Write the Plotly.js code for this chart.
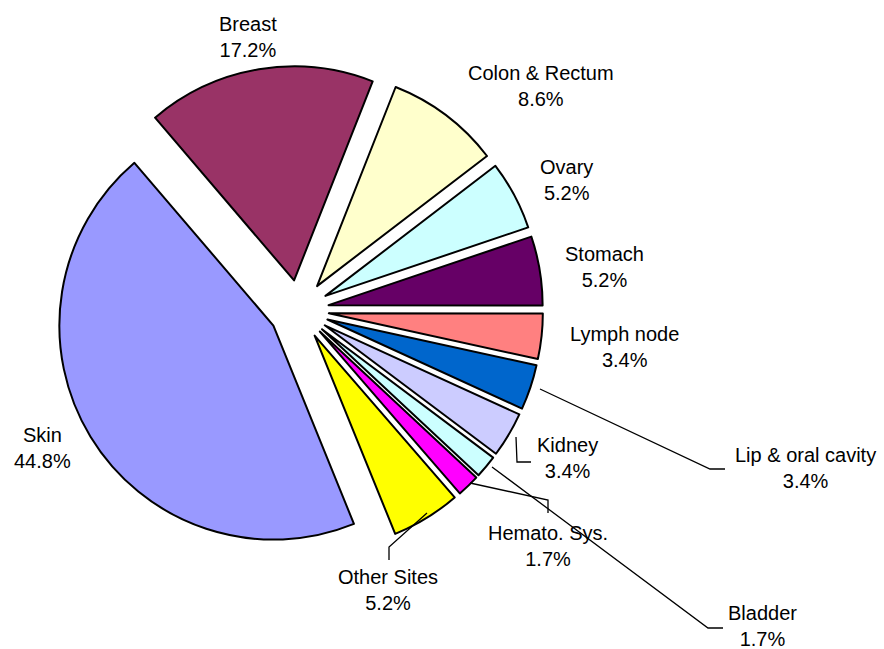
<!DOCTYPE html>
<html>
<head>
<meta charset="utf-8">
<script src="https://cdn.plot.ly/plotly-3.0.1.min.js"></script>
<style>html,body{margin:0;padding:0;background:#fff;}#chart{width:884px;height:649px;}</style>
</head>
<body>
<div id="chart"></div>
<script>
// ---- data ----
var categories = ["Breast", "Colon & Rectum", "Ovary", "Stomach", "Lymph node",
                  "Lip & oral cavity", "Kidney", "Bladder", "Hemato. Sys.", "Other Sites", "Skin"];
var percents = [17.2, 8.6, 5.2, 5.2, 3.4, 3.4, 3.4, 1.7, 1.7, 5.2, 44.8];

// ---- styling / layout (not data) ----
var colors = ["#993366", "#FFFFCC", "#CCFFFF", "#660066", "#FF8080",
              "#0066CC", "#CCCCFF", "#CCFFFF", "#FF00FF", "#FFFF00", "#9999FF"];
var W = 884, H = 649;
// label centre positions in pixels
var labelPos = [[248, 37], [541, 86], [566, 180], [604, 267], [624, 347],
                [805, 468], [567, 458], [762, 626], [548, 546], [388, 590], [42, 448]];
// leader lines (pixels)
var leaders = [
  [[540, 389], [710, 469], [725, 469]],
  [[516, 437], [517, 462], [531, 462]],
  [[492, 467], [708, 628], [723, 628]],
  [[470, 483], [548, 500], [548, 513]],
  [[427, 513], [389, 547], [389, 560]]
];

function px(x) { return x / W; }
function py(y) { return 1 - y / H; }

var annotations = categories.map(function (c, i) {
  return {
    x: px(labelPos[i][0]), y: py(labelPos[i][1]), xref: "paper", yref: "paper",
    text: c + "<br>" + percents[i].toFixed(1) + "%",
    showarrow: false, xanchor: "center", yanchor: "middle", align: "center",
    font: {family: "Liberation Sans, Arial, sans-serif", size: 20, color: "#000"}
  };
});

var shapes = leaders.map(function (pts) {
  var d = pts.map(function (p, k) {
    return (k === 0 ? "M" : "L") + px(p[0]) + "," + py(p[1]);
  }).join(" ");
  return {type: "path", xref: "paper", yref: "paper", path: d,
          line: {color: "#000", width: 1.3}};
});

var trace = {
  type: "pie",
  labels: categories,
  values: percents,
  sort: false,
  direction: "clockwise",
  rotation: -40.5,
  pull: categories.map(function () { return 0.14; }),
  marker: {colors: colors, line: {color: "#000", width: 2}},
  textinfo: "none",
  textposition: "none",
  hoverinfo: "label+percent",
  showlegend: false,
  domain: {x: [55 / W, 543 / W], y: [95 / H, 583 / H]}
};

var layout = {
  width: W, height: H,
  margin: {l: 0, r: 0, t: 0, b: 0},
  paper_bgcolor: "#fff", plot_bgcolor: "#fff",
  showlegend: false,
  annotations: annotations,
  shapes: shapes
};

Plotly.newPlot("chart", [trace], layout, {displayModeBar: false, staticPlot: true});
</script>
</body>
</html>
